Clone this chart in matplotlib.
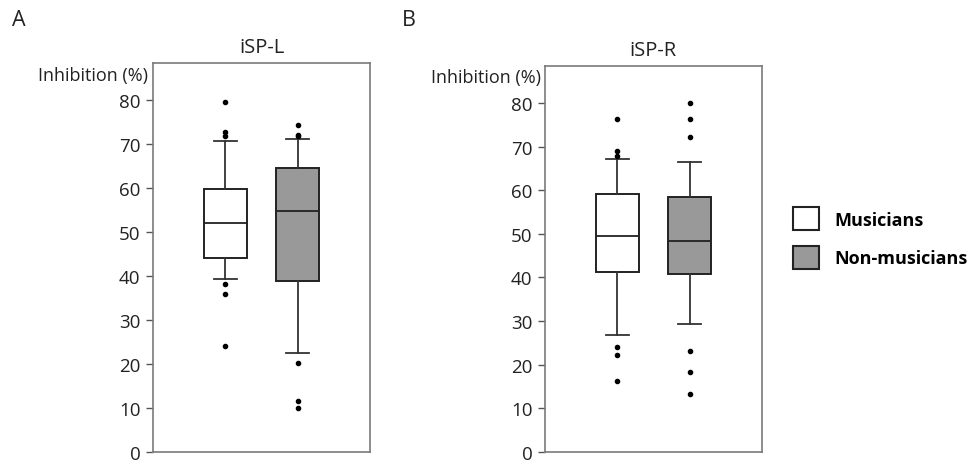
import matplotlib.pyplot as plt
from matplotlib.patches import Patch

plt.rcParams['font.family'] = ['Open Sans', 'DejaVu Sans']

groups = ['Musicians', 'Non-musicians']
fills = ['white', '#999999']

# panel A: iSP-L
l_med = [52.0, 54.8]
l_q1 = [44.1, 39.0]
l_q3 = [59.8, 64.5]
l_lo = [39.4, 22.4]
l_hi = [70.8, 71.1]
l_fliers = [[79.6, 72.7, 72.0, 38.1, 36.0, 24.2],
            [74.4, 72.2, 71.8, 20.2, 11.6, 10.0]]

# panel B: iSP-R
r_med = [49.4, 48.3]
r_q1 = [41.3, 40.7]
r_q3 = [59.0, 58.4]
r_lo = [26.7, 29.4]
r_hi = [67.2, 66.4]
r_fliers = [[76.3, 68.9, 67.8, 24.1, 22.1, 16.3],
            [80.0, 76.2, 72.1, 23.1, 18.2, 13.2]]

yticks = [0, 10, 20, 30, 40, 50, 60, 70, 80]


def make_stats(med, q1, q3, lo, hi, fliers):
    return [dict(med=med[i], q1=q1[i], q3=q3[i], whislo=lo[i], whishi=hi[i],
                 fliers=fliers[i], label=groups[i]) for i in range(len(groups))]


def draw_panel(ax, stats, title):
    bp = ax.bxp(stats, positions=[1, 2], widths=0.6, capwidths=0.32,
                patch_artist=True, showfliers=True,
                boxprops=dict(edgecolor='#222222', linewidth=1.4),
                medianprops=dict(color='#222222', linewidth=1.3),
                whiskerprops=dict(color='#333333', linewidth=1.3),
                capprops=dict(color='#333333', linewidth=1.3),
                flierprops=dict(marker='o', markersize=3, markerfacecolor='black',
                                markeredgecolor='black', linestyle='none'))
    for patch, c in zip(bp['boxes'], fills):
        patch.set_facecolor(c)
    ax.set_xlim(0, 3)
    ax.set_ylim(0, 88.5)
    ax.set_yticks(yticks)
    ax.set_xticks([])
    ax.tick_params(axis='y', labelsize=13.5, length=5, width=1, color='#555555',
                   labelcolor='#222222', pad=4)
    for s in ax.spines.values():
        s.set_color('#7a7a7a')
        s.set_linewidth(1.2)
    ax.set_title(title, fontsize=14.5, color='#222222', pad=8)


fig = plt.figure(figsize=(9.71, 4.64), dpi=100)
ax1 = fig.add_axes([0.1576, 0.024, 0.2235, 0.838])
ax2 = fig.add_axes([0.5613, 0.024, 0.2232, 0.832])

draw_panel(ax1, make_stats(l_med, l_q1, l_q3, l_lo, l_hi, l_fliers), 'iSP-L')
draw_panel(ax2, make_stats(r_med, r_q1, r_q3, r_lo, r_hi, r_fliers), 'iSP-R')

fig.text(148 / 971, 1 - 76 / 464, 'Inhibition (%)', ha='right', va='center',
         fontsize=13, color='#222222')
fig.text(541 / 971, 1 - 78 / 464, 'Inhibition (%)', ha='right', va='center',
         fontsize=13, color='#222222')
fig.text(12 / 971, 1 - 20 / 464, 'A', ha='left', va='center', fontsize=15.5, color='#222222')
fig.text(402 / 971, 1 - 20 / 464, 'B', ha='left', va='center', fontsize=15.5, color='#222222')

handles = [Patch(facecolor=c, edgecolor='#222222', linewidth=1.5) for c in fills]
leg = fig.legend(handles, groups, loc='upper left', bbox_to_anchor=(777 / 971, 1 - 192 / 464),
                 frameon=False, handlelength=1.45, handleheight=1.6, handletextpad=0.8,
                 labelspacing=0.85, prop=dict(weight='bold', size=13))

fig.savefig('out.png', dpi=100)
